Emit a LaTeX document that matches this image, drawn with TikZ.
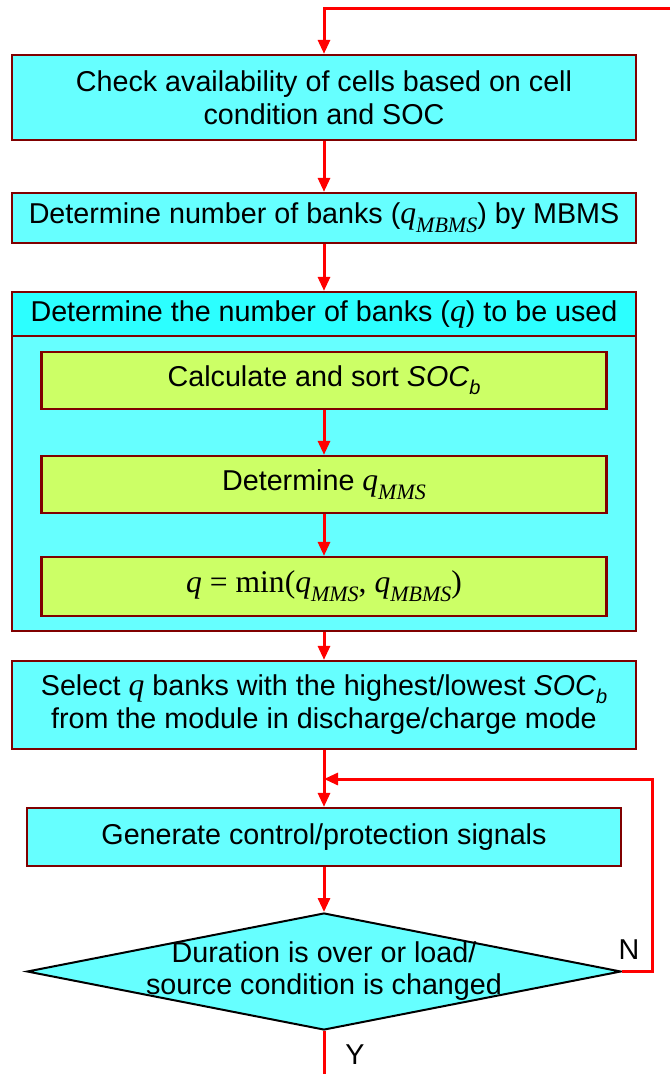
\documentclass[tikz,border=0pt]{standalone}
\usepackage{fontspec}
\setmainfont{Liberation Sans}
\newfontfamily\tms{Liberation Serif}[Scale=1.1]
\usetikzlibrary{shapes.geometric,arrows.meta}

\newcommand{\sub}[1]{\raisebox{-0.28em}{\fontsize{20}{20}\selectfont #1}}
\newcommand{\tq}{{\tms\itshape q}}
\newcommand{\tqs}[1]{{\tms\itshape q\sub{#1}}}
\newcommand{\socb}{\textit{SOC}\sub{\textit{b}}}

\begin{document}
\begin{tikzpicture}[x=1pt, y=-1pt, line cap=butt, line join=miter,
  box/.style={draw=rim, line width=2.2pt, fill=boxcyan, align=center,
    inner sep=0pt, minimum width=624pt, font=\fontsize{28.7}{33}\selectfont},
  gbox/.style={box, fill=boxgreen, minimum width=565pt},
  dia/.style={diamond, draw=black, line width=2pt, fill=boxcyan,
    inner sep=0pt, minimum width=594pt, minimum height=117pt},
  txt/.style={align=center, font=\fontsize{28.7}{32}\selectfont},
  arr/.style={draw=flow, line width=3pt, -{Triangle[length=14pt,width=12pt]}},
  wire/.style={draw=flow, line width=3pt}]

% Colors
\definecolor{boxcyan}{RGB}{102,255,255}
\definecolor{hdrcyan}{RGB}{44,255,255}
\definecolor{boxgreen}{RGB}{204,255,102}
\definecolor{rim}{RGB}{128,0,0}
\definecolor{flow}{RGB}{255,0,0}

\useasboundingbox (0,0) rectangle (670,1074);

% Upper steps
\node[box, minimum height=85pt] (check) at (324,97.5)
  {Check availability of cells based on cell\\condition and SOC};
\node[box, minimum height=50pt] (banks) at (324,218)
  {Determine number of banks (\tqs{MBMS}) by MBMS};

% Sizing block with its inner steps
\node[box, minimum height=339pt] (sizing) at (324,461.5) {};
\node[box, fill=hdrcyan, minimum height=44pt] (hdr) at (324,314)
  {Determine the number of banks (\tq) to be used};
\node[gbox, minimum height=57pt] (calc) at (324,380.5) {Calculate and sort \socb};
\node[gbox, minimum height=57pt] (detq) at (324,484.5) {Determine \tqs{MMS}};
\node[gbox, minimum height=59pt] (minq) at (324,586.5)
  {{\tms\itshape q} {\tms=} {\tms min(}\tqs{MMS}{\tms, }\tqs{MBMS}{\tms)}};

% Lower steps
\node[box, minimum height=88pt] (select) at (324,705)
  {Select \tq{} banks with the highest/lowest \socb\\from the module in discharge/charge mode};
\node[box, minimum width=594pt, minimum height=58pt] (gen) at (324,837)
  {Generate control/protection signals};
\node[dia] (dur) at (324,971.5) {};
\node[txt] (durtxt) at (324,971.5) {Duration is over or load/\\source condition is changed};

\node[txt, anchor=center] (nlab) at (629,950) {N};
\node[txt, anchor=center] (ylab) at (355,1055) {Y};

% Connectors
\coordinate (topR) at (670,8);
\coordinate (join) at (324,779);
\coordinate (loopR) at (652,779);
\coordinate (out) at (324,1074);

\draw[arr] (topR) -- (topR -| check.north) -- (check.north);
\draw[arr] (check.south) -- (banks.north);
\draw[arr] (banks.south) -- (hdr.north);
\draw[arr] (calc.south) -- (detq.north);
\draw[arr] (detq.south) -- (minq.north);
\draw[arr] (sizing.south) -- (select.north);
\draw[arr] (select.south) -- (gen.north);
\draw[arr] (gen.south) -- (dur.north);
\draw[arr] (dur.east) -| (loopR) -- (join);
\draw[wire] (dur.south) -- (out);
\end{tikzpicture}
\end{document}
